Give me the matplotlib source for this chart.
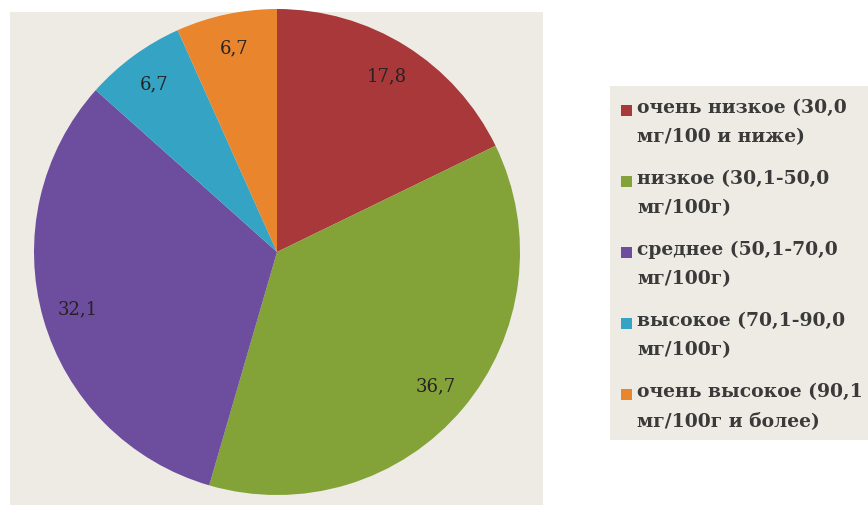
import matplotlib
matplotlib.use('Agg')
import matplotlib.pyplot as plt
from matplotlib.patches import Rectangle

# data
labels = ['очень низкое (30,0\nмг/100 и ниже)',
          'низкое (30,1-50,0\nмг/100г)',
          'среднее (50,1-70,0\nмг/100г)',
          'высокое (70,1-90,0\nмг/100г)',
          'очень высокое (90,1\nмг/100г и более)']
values = [17.8, 36.7, 32.1, 6.7, 6.7]
colors = ['#a8383a', '#83a238', '#6d4e9e', '#35a4c4', '#e9852c']

fig = plt.figure(figsize=(8.68, 5.11), dpi=100)
fig.patch.set_facecolor('white')

# grey panels behind the pie and the legend (pixel coords, y down)
bg = fig.add_axes([0, 0, 1, 1])
bg.set_xlim(0, 868)
bg.set_ylim(511, 0)
bg.axis('off')
bg.add_patch(Rectangle((10, 12), 533, 493, facecolor='#eeebe4', edgecolor='none'))
bg.add_patch(Rectangle((610, 86), 260, 354, facecolor='#eeebe4', edgecolor='none'))

# pie: centre ~(277, 252), radius ~243 px
ax = fig.add_axes([34/868, 16/511, 486/868, 486/511])
ax.set_facecolor('none')
wedges, texts, autotexts = ax.pie(values, colors=colors, startangle=90, counterclock=False,
                                  radius=1, pctdistance=0.855,
                                  autopct=lambda p: ('%.1f' % (p * sum(values) / 100)).replace('.', ','),
                                  wedgeprops=dict(linewidth=0))
for t in autotexts:
    t.set_fontfamily('DejaVu Serif')
    t.set_fontsize(13)
    t.set_color('#262222')
ax.set_xlim(-1, 1)
ax.set_ylim(-1, 1)
ax.set_aspect('equal')
ax.axis('off')

# legend: square + two-line label, square lined up with the first line
y0, step = 111, 71
for i, (lab, c) in enumerate(zip(labels, colors)):
    y = y0 + i * step
    bg.add_patch(Rectangle((621, y - 6), 11, 11, facecolor=c, edgecolor='none'))
    bg.text(637, y - 12, lab, fontfamily='DejaVu Serif', fontsize=13.5, fontweight='bold',
            color='#3a3a3a', va='top', ha='left', linespacing=1.78)

fig.savefig('out.png', dpi=100)
